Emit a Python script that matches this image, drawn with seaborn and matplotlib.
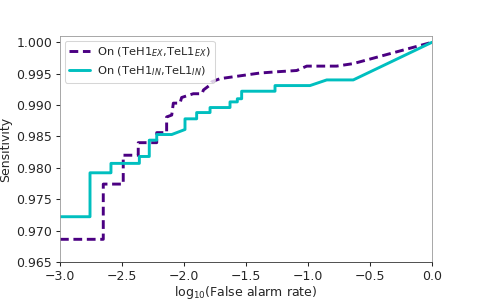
import numpy as np
import pandas as pd
import seaborn as sns
import matplotlib
matplotlib.use('Agg')
import matplotlib.pyplot as plt

# curve vertices (log10 FAR, sensitivity)
ex_far = [-3.0, -2.651, -2.651, -2.49, -2.49, -2.369, -2.369, -2.22, -2.22,
          -2.14, -2.14, -2.099, -2.086, -2.032, -2.019, -1.925, -1.855,
          -1.843, -1.79, -1.776, -1.71, -1.602, -1.495, -1.387, -1.25,
          -1.091, -1.01, -0.769, -0.635, 0.0]
ex_sens = [0.9686, 0.9686, 0.9774, 0.9774, 0.9820, 0.9820, 0.9840, 0.9840, 0.9856,
           0.9856, 0.9881, 0.9884, 0.9903, 0.9903, 0.9912, 0.9918, 0.9918,
           0.9924, 0.9932, 0.9937, 0.9942, 0.9945, 0.9948, 0.9951, 0.9953,
           0.9955, 0.9962, 0.9962, 0.9966, 1.0]

in_far = [-3.0, -2.758, -2.758, -2.589, -2.589, -2.36, -2.36, -2.28, -2.28,
          -2.22, -2.22, -2.099, -1.992, -1.992, -1.898, -1.898, -1.79, -1.79,
          -1.629, -1.629, -1.57, -1.57, -1.535, -1.535, -1.266, -1.266,
          -0.984, -0.849, -0.635, 0.0]
in_sens = [0.9722, 0.9722, 0.9792, 0.9792, 0.9807, 0.9807, 0.9818, 0.9818, 0.9844,
           0.9844, 0.9853, 0.9853, 0.9861, 0.9878, 0.9878, 0.9888, 0.9888, 0.9896,
           0.9896, 0.9905, 0.9905, 0.9910, 0.9910, 0.9922, 0.9922, 0.9931,
           0.9931, 0.9940, 0.9940, 1.0]

labels = [r'On (TeH1$_{EX}$,TeL1$_{EX}$)', r'On (TeH1$_{IN}$,TeL1$_{IN}$)']

df = pd.concat([
    pd.DataFrame({'far': ex_far, 'sens': ex_sens, 'curve': labels[0]}),
    pd.DataFrame({'far': in_far, 'sens': in_sens, 'curve': labels[1]}),
])

sns.set_style('white')
plt.rcParams['font.family'] = ['DejaVu Sans']

fig = plt.figure(figsize=(6.4, 4), dpi=75)
ax = fig.add_axes([0.125, 0.127, 0.775, 0.753])

sns.lineplot(data=df, x='far', y='sens', hue='curve', style='curve',
             palette={labels[0]: 'indigo', labels[1]: 'c'},
             dashes={labels[0]: (3, 1.6), labels[1]: ''},
             estimator=None, sort=False, linewidth=2.8, ax=ax)

ax.set_xlim(-3.0, 0.0)
ax.set_ylim(0.965, 1.001)
ax.set_yticks(np.arange(0.965, 1.0001, 0.005))
ax.set_xticks(np.arange(-3.0, 0.01, 0.5))
ax.set_xlabel(r'log$_{10}$(False alarm rate)', fontsize=12, labelpad=1)
ax.set_ylabel('Sensitivity', fontsize=12)
ax.tick_params(labelsize=12, length=4, width=1, direction='out', left=True, bottom=True)

for side in ['top', 'right', 'left']:
    ax.spines[side].set_color('#999999')
ax.spines['bottom'].set_color('#333333')

ax.legend(title=None, loc='upper left', fontsize=11, frameon=True,
          handlelength=1.8, handletextpad=0.6, borderaxespad=0.4)

fig.savefig('out.png', dpi=75)
